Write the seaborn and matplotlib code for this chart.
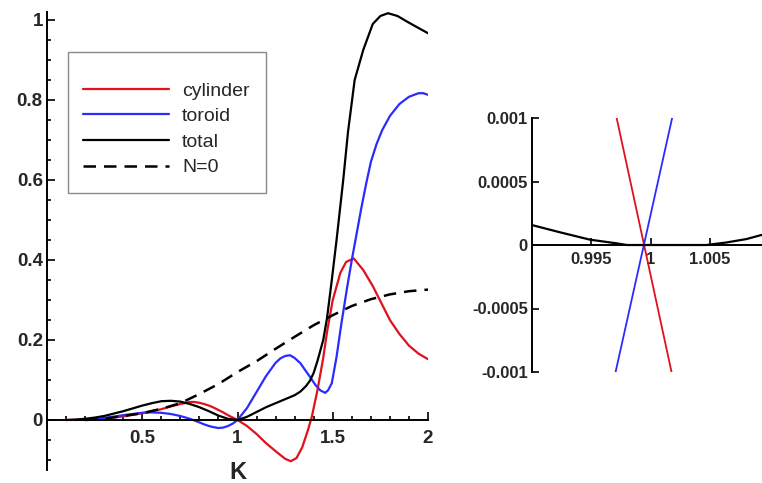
import matplotlib
matplotlib.use("Agg")
import matplotlib.pyplot as plt
from matplotlib.ticker import MultipleLocator
from matplotlib.patches import Rectangle
import seaborn as sns

# values
K_cyl = [0.10, 0.20, 0.30, 0.40, 0.50, 0.60, 0.65, 0.70, 0.75, 0.775, 0.80, 0.825, 0.85, 0.875,
         0.90, 0.925, 0.95, 0.975, 1.00, 1.05, 1.10, 1.15, 1.20, 1.25, 1.28, 1.31, 1.34,
         1.37, 1.39, 1.42, 1.45, 1.47, 1.50, 1.54, 1.57, 1.61, 1.66, 1.71, 1.765, 1.80,
         1.85, 1.90, 1.95, 2.00]
cylinder = [0.0, 0.001, 0.004, 0.009, 0.017, 0.027, 0.034, 0.040, 0.045, 0.045, 0.043, 0.040, 0.036, 0.031,
            0.025, 0.019, 0.012, 0.006, 0.0, -0.015, -0.035, -0.058, -0.078, -0.097, -0.103, -0.095, -0.068,
            -0.025, 0.008, 0.075, 0.155, 0.22, 0.30, 0.368, 0.395, 0.404, 0.375, 0.335, 0.283, 0.25,
            0.215, 0.186, 0.166, 0.152]

K_tor = [0.15, 0.20, 0.30, 0.40, 0.45, 0.50, 0.55, 0.60, 0.65, 0.70, 0.75, 0.80, 0.825, 0.85,
         0.875, 0.90, 0.925, 0.95, 0.975, 1.00, 1.05, 1.10, 1.15, 1.20, 1.225, 1.25, 1.275,
         1.30, 1.33, 1.355, 1.38, 1.41, 1.435, 1.46, 1.475, 1.495, 1.52, 1.545, 1.575, 1.60,
         1.625, 1.65, 1.675, 1.70, 1.73, 1.76, 1.80, 1.85, 1.90, 1.95, 1.975, 2.00]
toroid = [0.0, 0.001, 0.005, 0.012, 0.015, 0.018, 0.019, 0.018, 0.015, 0.010, 0.003, -0.006, -0.011, -0.015,
          -0.018, -0.020, -0.019, -0.015, -0.009, 0.0, 0.030, 0.070, 0.110, 0.143, 0.154, 0.160, 0.162,
          0.155, 0.142, 0.125, 0.108, 0.087, 0.074, 0.068, 0.074, 0.092, 0.158, 0.24, 0.33, 0.40,
          0.465, 0.53, 0.59, 0.645, 0.69, 0.725, 0.76, 0.79, 0.808, 0.817, 0.817, 0.813]

K_tot = [0.10, 0.15, 0.20, 0.25, 0.30, 0.35, 0.40, 0.45, 0.50, 0.55, 0.60, 0.65, 0.70, 0.75, 0.80,
         0.85, 0.90, 0.95, 1.00, 1.05, 1.10, 1.15, 1.20, 1.25, 1.30, 1.33, 1.36, 1.38, 1.40,
         1.42, 1.45, 1.47, 1.495, 1.52, 1.555, 1.58, 1.615, 1.66, 1.71, 1.75, 1.79, 1.84,
         1.89, 1.95, 2.00]
total = [0.0, 0.001, 0.003, 0.006, 0.010, 0.016, 0.022, 0.029, 0.036, 0.042, 0.047, 0.048, 0.046, 0.040, 0.032,
         0.022, 0.011, 0.003, 0.0, 0.008, 0.020, 0.032, 0.042, 0.052, 0.062, 0.071, 0.085, 0.098, 0.118,
         0.148, 0.20, 0.255, 0.35, 0.45, 0.60, 0.72, 0.85, 0.925, 0.99, 1.01, 1.017, 1.01,
         0.996, 0.98, 0.967]

K_n0 = [0.20, 0.30, 0.40, 0.50, 0.60, 0.70, 0.80, 0.90, 1.00, 1.10, 1.20, 1.30, 1.40,
        1.50, 1.60, 1.70, 1.80, 1.90, 2.00]
n0 = [0.0, 0.003, 0.010, 0.017, 0.028, 0.042, 0.065, 0.090, 0.120, 0.147, 0.178, 0.208, 0.237,
      0.262, 0.285, 0.302, 0.314, 0.322, 0.326]

# inset near K = 1
Kz_cyl = [0.99714, 1.00177]
cyl_zoom = [0.001, -0.001]
Kz_tor = [0.99705, 1.00182]
tor_zoom = [-0.001, 0.001]
Kz_tot = [0.9900, 0.99236, 0.99489, 0.99714, 0.9980, 1.0000, 1.0030, 1.00472, 1.00641, 1.0081, 1.00936]
tot_zoom = [0.000157, 0.0001, 0.000042, 0.000013, 0.0, 0.0, 0.0, 0.0, 0.00002, 0.000047, 0.000079]

RED = "#e0101c"
BLUE = "#2b2bff"

sns.set_style("white")
plt.rcParams["font.family"] = ["Liberation Sans", "DejaVu Sans"]

fig = plt.figure(figsize=(7.62, 4.83), dpi=100)
W, H = 762, 483

ax = fig.add_axes([47 / W, 1 - 470 / H, 381 / W, 458 / H])
sns.lineplot(x=K_cyl, y=cylinder, ax=ax, color=RED, lw=1.6, estimator=None, label="cylinder")
sns.lineplot(x=K_tor, y=toroid, ax=ax, color=BLUE, lw=1.6, estimator=None, label="toroid")
sns.lineplot(x=K_tot, y=total, ax=ax, color="black", lw=1.6, estimator=None, label="total")
sns.lineplot(x=K_n0, y=n0, ax=ax, color="black", lw=1.8, estimator=None, label="N=0",
             linestyle=(0, (5, 3.2)))

ax.set_xlim(0, 2)
ax.set_ylim(-0.125, 1.02)
for s in ["top", "right"]:
    ax.spines[s].set_visible(False)
ax.spines["bottom"].set_position(("data", 0))
for s in ["left", "bottom"]:
    ax.spines[s].set_linewidth(1.4)
    ax.spines[s].set_color("black")

ax.set_xticks([0.5, 1, 1.5, 2])
ax.set_xticklabels(["0.5", "1", "1.5", "2"])
ax.set_yticks([0, 0.2, 0.4, 0.6, 0.8, 1])
ax.set_yticklabels(["0", "0.2", "0.4", "0.6", "0.8", "1"])
ax.xaxis.set_minor_locator(MultipleLocator(0.1))
ax.yaxis.set_minor_locator(MultipleLocator(0.05))
ax.tick_params(which="both", direction="in", width=1.2, color="black", bottom=True, left=True)
ax.tick_params(which="major", length=6, labelsize=13.5)
ax.tick_params(which="minor", length=3)
ax.tick_params(axis="x", pad=7)
ax.tick_params(axis="y", pad=3)
for t in ax.get_xticklabels() + ax.get_yticklabels():
    t.set_fontweight("bold")
ax.set_xlabel("K", fontsize=17, fontweight="bold")
ax.xaxis.set_label_coords(0.5, 0.02)
ax.set_ylabel("")

# legend without its own frame, boxed by a rectangle as in the original
leg = ax.legend(loc="upper left", bbox_to_anchor=(83 / W, 1 - 82 / H),
                bbox_transform=fig.transFigure, fontsize=14, frameon=False,
                borderpad=0, handlelength=4.4, handletextpad=0.7,
                labelspacing=0.41, borderaxespad=0)
ax.add_patch(Rectangle((68 / W, 1 - 193 / H), 198 / W, 141 / H, transform=fig.transFigure,
                       fill=False, edgecolor="#8a8a8a", lw=1.0, clip_on=False))

# inset
ax2 = fig.add_axes([532 / W, 1 - 372 / H, 230 / W, 254 / H])
sns.lineplot(x=Kz_cyl, y=cyl_zoom, ax=ax2, color=RED, lw=1.3, estimator=None)
sns.lineplot(x=Kz_tor, y=tor_zoom, ax=ax2, color=BLUE, lw=1.3, estimator=None)
sns.lineplot(x=Kz_tot, y=tot_zoom, ax=ax2, color="black", lw=1.6, estimator=None)
ax2.set_xlim(0.99, 1.0094)
ax2.set_ylim(-0.001, 0.001)
for s in ["top", "right"]:
    ax2.spines[s].set_visible(False)
ax2.spines["bottom"].set_position(("data", 0))
for s in ["left", "bottom"]:
    ax2.spines[s].set_linewidth(1.4)
    ax2.spines[s].set_color("black")
ax2.set_xticks([0.995, 1, 1.005])
ax2.set_xticklabels(["0.995", "1", "1.005"])
ax2.set_yticks([-0.001, -0.0005, 0, 0.0005, 0.001])
ax2.set_yticklabels(["-0.001", "-0.0005", "0", "0.0005", "0.001"])
ax2.tick_params(which="both", direction="in", width=1.2, length=5, color="black",
                bottom=True, left=True, labelsize=12)
ax2.tick_params(axis="x", pad=5)
ax2.tick_params(axis="y", pad=3)
for t in ax2.get_xticklabels() + ax2.get_yticklabels():
    t.set_fontweight("bold")
ax2.set_xlabel("")
ax2.set_ylabel("")

fig.savefig("out.png", dpi=100, facecolor="white")
